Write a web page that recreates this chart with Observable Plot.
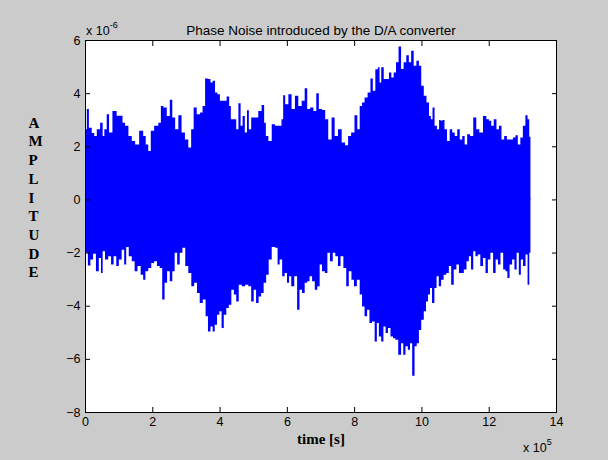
<!DOCTYPE html>
<html>
<head>
<meta charset="utf-8">
<script src="https://cdn.jsdelivr.net/npm/d3@7"></script>
<script src="https://cdn.jsdelivr.net/npm/@observablehq/plot@0.6"></script>
<style>
  html, body { margin: 0; padding: 0; background: #cbcbcb; }
  #chart { width: 608px; height: 460px; }
</style>
</head>
<body>
<div id="chart"></div>
<script>
// Upper envelope (time in 1e5 s, amplitude in 1e-6)
const upX = [0.00,0.03,0.08,0.15,0.25,0.30,0.40,0.50,0.55,0.60,0.69,0.74,0.89,0.99,1.09,1.14,1.24,1.34,1.44,1.54,1.68,1.78,1.83,1.93,1.98,2.13,2.23,2.28,2.38,2.48,2.56,2.63,2.73,2.82,2.92,3.02,3.12,3.19,3.27,3.37,3.47,3.52,3.62,3.69,3.77,3.82,3.91,3.96,4.06,4.16,4.26,4.31,4.36,4.46,4.53,4.59,4.66,4.71,4.79,4.84,4.90,4.98,5.10,5.20,5.30,5.35,5.40,5.50,5.60,5.70,5.80,5.88,5.90,6.00,6.09,6.19,6.29,6.39,6.49,6.57,6.64,6.74,6.84,6.91,6.99,7.10,7.18,7.28,7.38,7.46,7.58,7.68,7.78,7.86,7.96,8.06,8.13,8.20,8.27,8.35,8.45,8.52,8.59,8.67,8.74,8.77,8.84,8.92,9.00,9.07,9.14,9.21,9.28,9.36,9.43,9.51,9.59,9.66,9.73,9.81,9.89,9.96,10.03,10.11,10.19,10.26,10.30,10.36,10.42,10.50,10.55,10.60,10.65,10.72,10.80,10.88,10.95,11.03,11.10,11.18,11.25,11.32,11.40,11.49,11.59,11.67,11.77,11.89,11.97,12.04,12.11,12.19,12.27,12.34,12.42,12.50,12.58,12.68,12.76,12.83,12.90,12.98,13.05,13.13,13.18,13.23,13.24];
const upY = [3.37,2.64,3.40,2.70,2.50,2.39,2.64,2.89,2.39,2.64,3.21,2.52,3.33,3.15,3.15,2.89,2.77,2.39,2.20,2.07,2.58,2.39,2.07,1.82,2.58,2.77,2.89,3.52,3.46,3.14,3.75,3.08,2.64,3.17,2.52,2.26,1.95,2.64,3.46,3.21,3.27,3.52,4.55,4.53,4.40,4.47,4.02,3.96,3.71,3.71,3.87,3.52,3.02,3.02,2.64,3.62,2.77,3.14,2.52,3.36,2.64,3.08,3.08,3.33,3.55,2.89,2.39,2.20,2.83,2.77,2.77,3.02,3.92,3.58,3.96,3.40,3.90,3.52,3.71,4.18,3.40,3.46,3.33,4.00,3.40,3.37,3.02,2.26,3.08,2.39,2.64,2.14,2.04,2.39,2.52,3.17,2.64,3.52,3.65,3.84,4.02,4.55,4.09,4.90,4.97,4.40,4.97,4.53,4.53,4.78,4.59,4.78,5.16,5.76,4.91,5.16,5.43,5.16,5.60,5.03,5.22,5.03,4.28,3.90,3.65,3.14,3.02,3.46,2.77,2.64,2.99,2.96,2.99,2.64,2.20,2.64,2.52,2.39,2.64,2.26,2.39,2.07,2.45,2.39,3.08,2.64,2.52,3.14,3.02,2.96,2.77,3.02,2.64,2.77,2.26,2.39,2.26,2.26,2.33,2.42,2.07,2.33,2.77,3.17,3.02,2.36,2.36];

// Lower envelope
const loX = [0.00,0.05,0.12,0.20,0.28,0.37,0.45,0.50,0.55,0.64,0.74,0.81,0.89,0.97,1.04,1.14,1.19,1.26,1.34,1.44,1.51,1.61,1.70,1.76,1.83,1.93,2.01,2.10,2.18,2.26,2.33,2.40,2.48,2.56,2.63,2.70,2.78,2.85,2.94,3.02,3.12,3.20,3.29,3.37,3.45,3.55,3.62,3.69,3.77,3.82,3.89,3.96,4.03,4.09,4.16,4.24,4.31,4.39,4.46,4.53,4.61,4.71,4.81,4.90,4.98,5.05,5.12,5.20,5.27,5.35,5.42,5.50,5.60,5.70,5.75,5.82,5.90,5.97,6.04,6.09,6.17,6.27,6.34,6.41,6.49,6.57,6.64,6.71,6.79,6.87,6.94,7.01,7.08,7.18,7.23,7.33,7.40,7.48,7.56,7.63,7.73,7.80,7.88,7.96,8.03,8.13,8.20,8.27,8.35,8.42,8.49,8.57,8.65,8.70,8.77,8.84,8.90,8.97,9.04,9.12,9.19,9.26,9.36,9.43,9.49,9.56,9.63,9.69,9.76,9.83,9.89,9.96,10.03,10.11,10.16,10.23,10.28,10.35,10.42,10.48,10.55,10.62,10.70,10.78,10.85,10.92,11.00,11.08,11.15,11.22,11.30,11.38,11.44,11.51,11.57,11.64,11.71,11.79,11.87,11.94,12.01,12.09,12.17,12.24,12.31,12.39,12.47,12.53,12.58,12.66,12.73,12.80,12.86,12.93,12.98,13.06,13.13,13.18,13.23,13.24];
const loY = [-2.26,-2.01,-2.49,-2.26,-2.04,-2.70,-2.20,-2.77,-1.95,-2.26,-2.14,-2.45,-2.14,-2.51,-2.26,-1.89,-2.45,-1.79,-2.14,-2.33,-2.70,-2.51,-2.83,-3.02,-2.70,-2.58,-2.39,-2.33,-2.51,-2.58,-3.77,-3.14,-2.70,-3.08,-2.70,-2.01,-2.45,-2.01,-1.82,-2.51,-2.77,-3.27,-3.14,-3.52,-3.90,-3.77,-4.40,-4.97,-4.78,-4.97,-4.72,-4.34,-4.21,-4.84,-4.34,-4.09,-3.96,-3.40,-3.58,-3.84,-3.21,-3.27,-3.21,-3.27,-3.84,-3.40,-3.90,-3.65,-3.52,-3.14,-2.83,-2.26,-1.79,-1.82,-2.45,-2.26,-2.89,-2.77,-3.14,-2.89,-3.27,-2.89,-4.15,-3.40,-3.52,-3.14,-3.08,-2.89,-3.08,-3.40,-3.27,-2.45,-2.70,-2.77,-2.01,-2.33,-2.01,-2.14,-2.51,-2.14,-2.58,-3.27,-2.70,-3.02,-3.27,-3.02,-3.58,-4.03,-4.40,-4.15,-4.65,-4.59,-5.35,-4.65,-5.16,-5.35,-4.78,-5.03,-4.84,-5.16,-5.22,-5.28,-5.85,-5.41,-5.85,-5.53,-5.66,-5.41,-6.64,-5.53,-5.41,-4.91,-4.53,-4.21,-3.84,-3.58,-3.33,-3.90,-3.33,-2.89,-3.27,-3.02,-2.83,-2.77,-2.51,-3.21,-2.64,-2.45,-2.77,-2.77,-2.64,-2.33,-2.14,-2.64,-1.95,-2.14,-2.07,-2.51,-2.20,-2.77,-2.26,-2.01,-2.77,-2.26,-2.45,-2.01,-2.64,-2.70,-2.96,-2.45,-2.26,-2.64,-2.01,-2.83,-2.26,-2.51,-2.07,-3.21,-2.01,-2.01];

const xTicks = [0, 2, 4, 6, 8, 10, 12, 14];
const yTicks = [-8, -6, -4, -2, 0, 2, 4, 6];
const titleText = "Phase Noise introduced by the D/A converter";
const xLabel = "time [s]";
const yLabelLetters = ["A","M","P","L","I","T","U","D","E"];
const yExponent = "-6";
const xExponent = "5";

const upper = upX.map((x, i) => ({x, y: upY[i]}));
const lower = loX.map((x, i) => ({x, y: loY[i]}));

const sans = "'Liberation Sans', Arial, sans-serif";
const serif = "'Liberation Serif', 'Times New Roman', serif";

const chart = Plot.plot({
  width: 608,
  height: 460,
  marginLeft: 85,
  marginRight: 52,
  marginTop: 40,
  marginBottom: 48,
  style: { background: "#cbcbcb", fontFamily: sans, fontSize: "12px", color: "#000" },
  x: { domain: [0, 14] },
  y: { domain: [-8, 6] },
  marks: [
    Plot.frame({ fill: "white" }),
    Plot.areaY(upper, { x: "x", y1: 0, y2: "y", curve: "step", fill: "#0000ff" }),
    Plot.areaY(lower, { x: "x", y1: "y", y2: 0.05, curve: "step", fill: "#0000ff" }),
    Plot.axisX(xTicks, { anchor: "bottom", tickSize: 0, tickPadding: 5, fontSize: 12.5, label: null }),
    Plot.axisY(yTicks, { anchor: "left", tickSize: 0, tickPadding: 5, fontSize: 12.5, label: null }),
    Plot.axisX(xTicks, { anchor: "bottom", tickSize: -5, tickFormat: () => "", label: null }),
    Plot.axisX(xTicks, { anchor: "top", tickSize: -5, tickFormat: () => "", label: null }),
    Plot.axisY(yTicks, { anchor: "left", tickSize: -5, tickFormat: () => "", label: null }),
    Plot.axisY(yTicks, { anchor: "right", tickSize: -5, tickFormat: () => "", label: null }),
    Plot.frame({ stroke: "black" }),
    Plot.text([titleText], { frameAnchor: "top", dy: -15, fontSize: 13.5, fontFamily: sans }),
    Plot.text([xLabel], { frameAnchor: "bottom", dy: 31, fontSize: 15, fontWeight: "bold", fontFamily: serif }),
    Plot.text([yLabelLetters.join("\n")], { frameAnchor: "left", dx: -57, dy: -30, lineHeight: 1.247, fontSize: 15, fontWeight: "bold", fontFamily: serif })
  ]
});

document.getElementById("chart").appendChild(chart);

// Exponent annotations (MATLAB-style multipliers)
const svg = d3.select(chart);
const t1 = svg.append("text").attr("x", 86).attr("y", 35).attr("text-anchor", "start")
  .attr("font-family", sans).attr("font-size", 12.5).attr("fill", "black");
t1.append("tspan").text("x 10");
t1.append("tspan").attr("dy", -7).attr("font-size", 9).text(yExponent);
const t2 = svg.append("text").attr("x", 523).attr("y", 452).attr("text-anchor", "start")
  .attr("font-family", sans).attr("font-size", 12.5).attr("fill", "black");
t2.append("tspan").text("x 10");
t2.append("tspan").attr("dy", -7).attr("font-size", 9).text(xExponent);
</script>
</body>
</html>
